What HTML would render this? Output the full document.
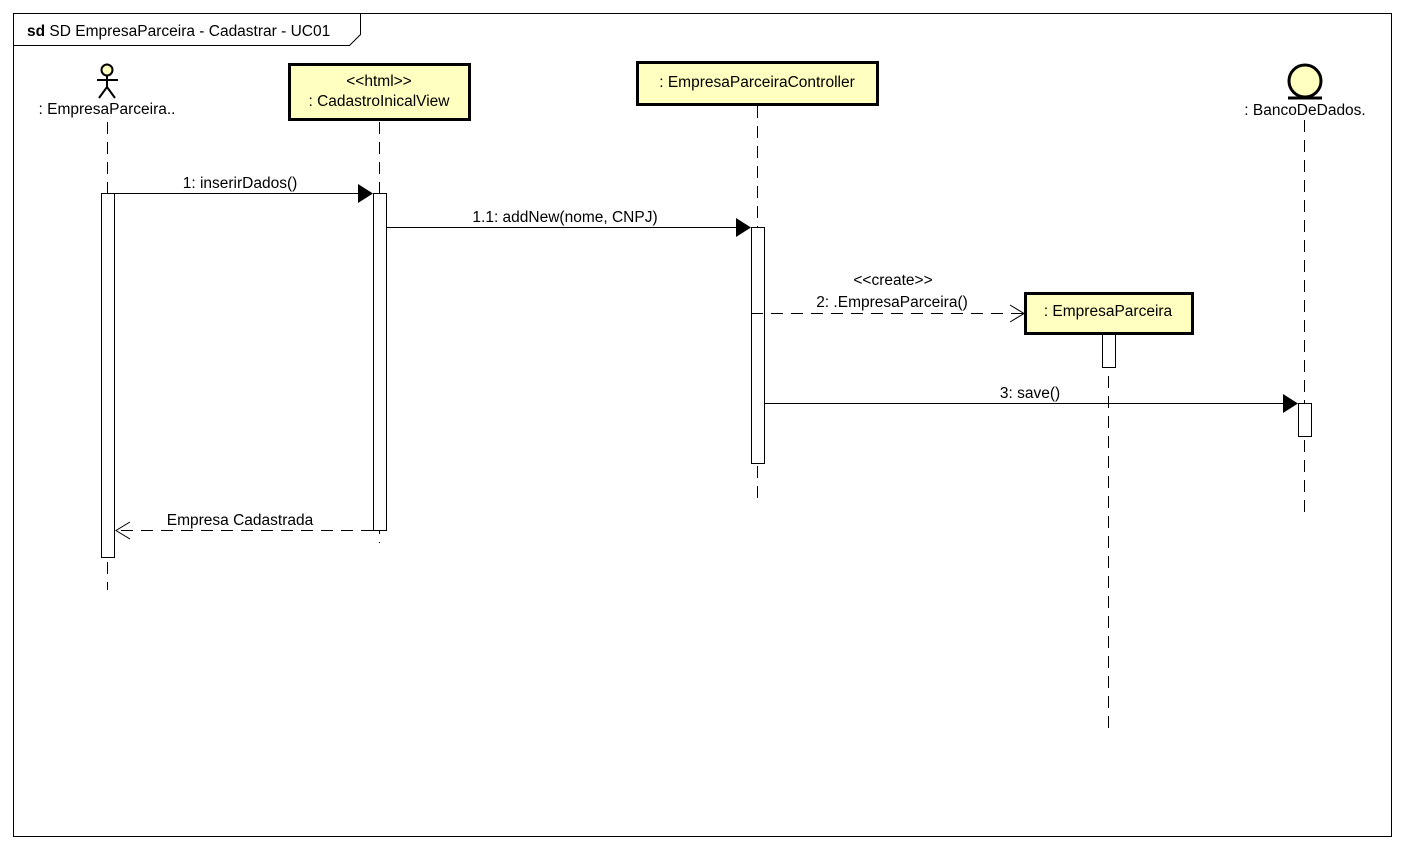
<!DOCTYPE html>
<html><head><meta charset="utf-8"><style>
html,body{margin:0;padding:0;background:#fff;}
svg{display:block;}
text{font-family:"Liberation Sans",sans-serif;font-size:15.5px;fill:#000;}
</style></head><body>
<svg width="1404" height="849" viewBox="0 0 1404 849" xmlns="http://www.w3.org/2000/svg">
<rect x="0" y="0" width="1404" height="849" fill="#fff"/>
<rect x="13.5" y="13.5" width="1378" height="823" fill="none" stroke="#000" stroke-width="1"/>
<path d="M13.5 45.5 H349.5 L360.5 34.5 V13.5" fill="none" stroke="#000"/>
<text x="27" y="36"><tspan font-weight="bold">sd</tspan> SD EmpresaParceira - Cadastrar - UC01</text>

<g stroke="#000" stroke-width="1" stroke-dasharray="12,8" fill="none">
<line x1="107.5" y1="122" x2="107.5" y2="590"/>
<line x1="379.5" y1="122" x2="379.5" y2="543"/>
<line x1="757.5" y1="106" x2="757.5" y2="505"/>
<line x1="1108.5" y1="336" x2="1108.5" y2="735"/>
<line x1="1304.5" y1="120" x2="1304.5" y2="517"/>
</g>

<g stroke="#000" stroke-width="2" fill="none">
<circle cx="107" cy="70" r="5.5" fill="#ffffc0"/>
<line x1="107" y1="76" x2="107" y2="88"/>
<line x1="97" y1="80" x2="118" y2="80"/>
<line x1="107" y1="87" x2="99" y2="98"/>
<line x1="107" y1="87" x2="115" y2="98"/>
</g>
<text x="107" y="114" text-anchor="middle">: EmpresaParceira..</text>

<rect x="289.5" y="64.5" width="180" height="55" fill="#ffffc0" stroke="#000" stroke-width="3"/>
<text x="379" y="86" text-anchor="middle" font-size="14">&lt;&lt;html&gt;&gt;</text>
<text x="379" y="106" text-anchor="middle">: CadastroInicalView</text>

<rect x="637.5" y="62.5" width="240" height="42" fill="#ffffc0" stroke="#000" stroke-width="3"/>
<text x="757" y="87" text-anchor="middle">: EmpresaParceiraController</text>

<rect x="1025.5" y="293.5" width="167" height="40" fill="#ffffc0" stroke="#000" stroke-width="3"/>
<text x="1108" y="316" text-anchor="middle">: EmpresaParceira</text>

<circle cx="1305" cy="81" r="16" fill="#ffffc0" stroke="#000" stroke-width="3"/>
<line x1="1288" y1="98" x2="1322" y2="98" stroke="#000" stroke-width="3"/>
<text x="1305" y="115" text-anchor="middle">: BancoDeDados.</text>

<g fill="#fff" stroke="#000" stroke-width="1">
<rect x="101.5" y="193.5" width="13" height="364"/>
<rect x="373.5" y="193.5" width="13" height="337"/>
<rect x="751.5" y="227.5" width="13" height="236"/>
<rect x="1102.5" y="334.5" width="13" height="33"/>
<rect x="1298.5" y="403.5" width="13" height="33"/>
</g>

<g stroke="#000" stroke-width="1" fill="none">
<line x1="114" y1="193.5" x2="360" y2="193.5"/>
<line x1="386" y1="227.5" x2="738" y2="227.5"/>
<line x1="751" y1="313.5" x2="1024" y2="313.5" stroke-dasharray="12,8"/>
<polyline points="1010,305 1024,313.5 1010,322"/>
<line x1="764" y1="403.5" x2="1285" y2="403.5"/>
<line x1="373" y1="530.5" x2="116" y2="530.5" stroke-dasharray="12,8"/>
<polyline points="130,522 116,530.5 130,539"/>
</g>
<g fill="#000">
<polygon points="358,184 373,193.5 358,203"/>
<polygon points="736,218 751,227.5 736,237"/>
<polygon points="1283,394 1298,403.5 1283,413"/>
</g>
<text x="240" y="188" text-anchor="middle">1: inserirDados()</text>
<text x="565" y="222" text-anchor="middle">1.1: addNew(nome, CNPJ)</text>
<text x="893" y="285" text-anchor="middle" font-size="14">&lt;&lt;create&gt;&gt;</text>
<text x="892" y="307" text-anchor="middle">2: .EmpresaParceira()</text>
<text x="1030" y="398" text-anchor="middle">3: save()</text>
<text x="240" y="525" text-anchor="middle">Empresa Cadastrada</text>
</svg>
</body></html>
